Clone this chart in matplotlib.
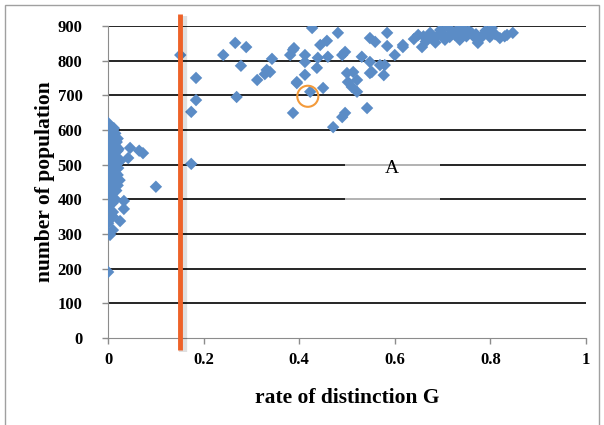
import numpy as np
import matplotlib.pyplot as plt
import matplotlib.patheffects as pe
from matplotlib.patches import Rectangle

# left cluster (rate ~0)
left_x = [0.0, 0.005, 0.01, 0.0, 0.015, 0.005, 0.02, 0.0, 0.01, 0.015,
          0.005, 0.0, 0.02, 0.01, 0.005, 0.015, 0.0, 0.01, 0.02, 0.005,
          0.0, 0.015, 0.01, 0.005, 0.02, 0.0, 0.01, 0.015, 0.005, 0.0,
          0.02, 0.01, 0.005, 0.0, 0.015, 0.01, 0.0, 0.005, 0.02, 0.01,
          0.0, 0.01, 0.004, 0.0,
          0.012, 0.018, 0.008, 0.022, 0.003, 0.016, 0.012, 0.007, 0.024, 0.014,
          0.003, 0.018, 0.009, 0.013, 0.021, 0.006, 0.017, 0.011, 0.002, 0.025,
          0.046, 0.073, 0.065, 0.042, 0.10, 0.033, 0.033, 0.01, 0.025, 0.0, 0.01, 0.004]
left_y = [620, 610, 600, 595, 590, 580, 575, 570, 560, 555,
          550, 545, 540, 530, 525, 520, 515, 510, 505, 500,
          495, 490, 485, 480, 470, 465, 460, 455, 450, 445,
          440, 430, 420, 410, 400, 390, 380, 470, 520, 350,
          340, 580, 540, 190,
          605, 565, 535, 545, 505, 475, 448, 425, 455, 495,
          435, 515, 588, 470, 490, 560, 425, 400, 565, 510,
          548, 533, 540, 519, 436, 395, 372, 363, 337, 331, 311, 297]

# middle band
mid_x = [0.151, 0.184, 0.184, 0.174, 0.174, 0.266, 0.289, 0.241, 0.278, 0.269,
         0.312, 0.332, 0.339, 0.328, 0.343, 0.381, 0.389, 0.387, 0.395,
         0.427, 0.481, 0.387, 0.412, 0.412, 0.444, 0.458, 0.439, 0.46, 0.437,
         0.496, 0.49, 0.548, 0.559, 0.584, 0.584, 0.617, 0.60, 0.531, 0.548,
         0.579, 0.412, 0.395, 0.423, 0.45, 0.50, 0.513, 0.502, 0.521, 0.51,
         0.521, 0.548, 0.542, 0.496, 0.49, 0.471, 0.569, 0.577, 0.552]
mid_y = [816, 750, 686, 652, 502, 851, 839, 816, 785, 695,
         744, 773, 767, 761, 805, 816, 836, 649, 735,
         894, 880, 831, 816, 796, 845, 857, 808, 811, 779,
         825, 816, 865, 854, 880, 842, 845, 816, 811, 796,
         787, 759, 738, 710, 721, 764, 767, 738, 744, 724,
         710, 764, 663, 649, 637, 608, 787, 758, 767]

# right cluster
right_x = [0.617, 0.649, 0.657, 0.674, 0.68, 0.695, 0.711, 0.715, 0.73, 0.743,
           0.736, 0.761, 0.774, 0.785, 0.803, 0.799, 0.82, 0.835, 0.847,
           0.64, 0.66, 0.69, 0.70, 0.72, 0.75, 0.77, 0.79, 0.81, 0.83,
           0.665, 0.705, 0.725, 0.755, 0.78, 0.745, 0.685, 0.765]
right_y = [839, 874, 839, 880, 865, 888, 897, 868, 888, 894,
           860, 880, 851, 874, 894, 868, 865, 874, 880,
           862, 870, 872, 878, 882, 870, 876, 886, 876, 870,
           855, 860, 875, 885, 865, 880, 852, 870]

x = left_x + mid_x + right_x
y = left_y + mid_y + right_y

threshold_g = 0.15
marked_point = (0.418, 697)
label_pos = (0.594, 490)

fig = plt.figure(figsize=(6.04, 4.25), dpi=100)
ax = fig.add_axes([0.179, 0.205, 0.791, 0.734])

serif = 'Liberation Serif'

for v in range(100, 1000, 100):
    ax.axhline(v, color='black', lw=1.2, zorder=1)

ax.scatter(x, y, marker='D', s=40, color='#5B8CC6', edgecolors='none', zorder=3)

# white box behind the "A"
ax.add_patch(Rectangle((0.496, 395), 0.198, 110, facecolor='white',
                       alpha=0.65, edgecolor='none', zorder=2))
ax.text(label_pos[0], label_pos[1], 'A', fontsize=14, family=serif,
        ha='center', va='center', zorder=4)

ax.plot([threshold_g, threshold_g], [-35, 935], color='#EE6228', lw=3.5,
        clip_on=False, zorder=5, solid_capstyle='butt',
        path_effects=[pe.SimpleLineShadow(offset=(2.5, -1.5), alpha=0.12,
                                          linewidth=6),
                      pe.Normal()])

ax.scatter([marked_point[0]], [marked_point[1]], s=230, facecolors='none',
           edgecolors='#F39A3A', linewidths=1.5, zorder=6)

ax.set_xlim(0, 1)
ax.set_ylim(0, 900)
ax.set_xticks(np.arange(0, 1.01, 0.2))
ax.set_xticklabels(['0', '0.2', '0.4', '0.6', '0.8', '1'])
ax.set_yticks(range(0, 901, 100))

for s in ['top', 'right']:
    ax.spines[s].set_visible(False)
for s in ['left', 'bottom']:
    ax.spines[s].set_color('#8C8C8C')
ax.tick_params(axis='both', color='#8C8C8C', length=4.5, width=1)
ax.tick_params(axis='x', pad=6)
ax.tick_params(axis='y', pad=14)

for lab in ax.get_xticklabels() + ax.get_yticklabels():
    lab.set_family(serif)
    lab.set_fontweight('bold')
    lab.set_fontsize(12)

ax.set_xlabel('rate of distinction G', family=serif, fontweight='bold',
              fontsize=15.5, labelpad=14)
ax.set_ylabel('number of population', family=serif, fontweight='bold',
              fontsize=15.5, labelpad=2)

# outer frame
fig.patches.append(Rectangle((5 / 604, -0.1), 594 / 604, 1.1 - 5 / 425,
                             transform=fig.transFigure, fill=False,
                             edgecolor='#A0A0A0', lw=1))

fig.savefig('out.png', dpi=100)
